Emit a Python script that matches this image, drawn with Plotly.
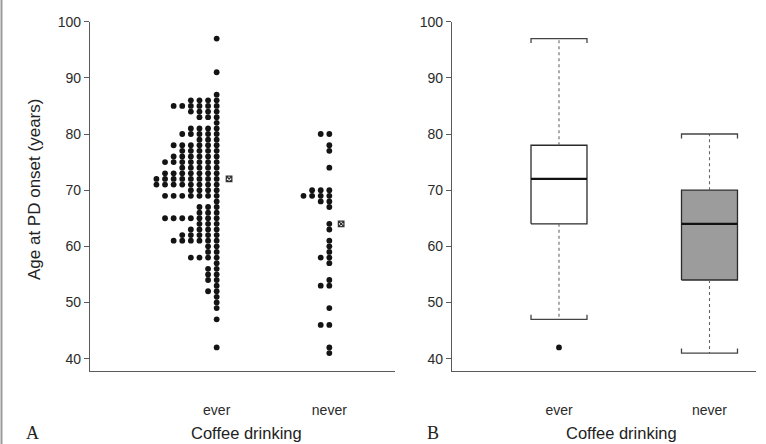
import plotly.graph_objects as go

# ---------------- data ----------------
categories = ["ever", "never"]

# dot histogram (panel A): age and number of subjects with that age
ever_ages = [97, 91, 87, 86, 85, 84, 83, 82, 81, 80, 79, 78, 77, 76, 75, 74, 73, 72, 71, 70,
             69, 68, 67, 66, 65, 64, 63, 62, 61, 60, 59, 58, 57, 56, 55, 54, 53, 52, 51, 50,
             49, 47, 42]
ever_counts = [1, 1, 1, 4, 6, 4, 3, 1, 4, 5, 3, 6, 5, 6, 7, 5, 7, 8, 8, 4,
               7, 1, 3, 3, 7, 3, 4, 5, 6, 2, 2, 4, 1, 2, 2, 2, 1, 2, 1, 1,
               1, 1, 1]
never_ages = [80, 78, 77, 74, 70, 69, 68, 67, 64, 63, 61, 60, 59, 58, 57, 54, 53, 49, 46, 42, 41]
never_counts = [2, 1, 1, 1, 3, 4, 2, 1, 1, 1, 1, 1, 1, 2, 1, 1, 2, 1, 2, 1, 1]
center_marker = [72, 64]

# box plot (panel B)
box_q1 = [64, 54]
box_median = [72, 64]
box_q3 = [78, 70]
whisker_low = [47, 41]
whisker_high = [97, 80]
outliers_ever = [42]
box_fill = ["white", "#9c9c9c"]

y_ticks = [40, 50, 60, 70, 80, 90, 100]

# ---------------- figure ----------------
fig = go.Figure()
DOT = "#141414"
AX = "#5a5a5a"
step = 0.0764  # horizontal spacing of stacked dots (axis units)

# Panel A: stacked dots leftwards from category position
for ci, (ages, counts) in enumerate([(ever_ages, ever_counts), (never_ages, never_counts)]):
    pos = ci + 1
    xs, ys = [], []
    for a, c in zip(ages, counts):
        for k in range(c):
            xs.append(pos - k * step)
            ys.append(a)
    fig.add_trace(go.Scatter(x=xs, y=ys, mode="markers", xaxis="x", yaxis="y",
                             marker=dict(size=5.8, color=DOT), showlegend=False,
                             hoverinfo="skip"))
fig.add_trace(go.Scatter(x=[1 + 0.11, 2 + 0.105], y=center_marker, mode="markers",
                         xaxis="x", yaxis="y",
                         marker=dict(symbol="square-x-open", size=5.5, color="#333",
                                     line=dict(width=1.3, color="#333")),
                         showlegend=False, hoverinfo="skip"))

# Panel B: box plots drawn as line traces
hw = 0.186
capend = 0.8
for i in range(2):
    p = i + 1
    fig.add_trace(go.Scatter(
        x=[p - hw, p + hw, p + hw, p - hw, p - hw],
        y=[box_q1[i], box_q1[i], box_q3[i], box_q3[i], box_q1[i]],
        mode="lines", fill="toself", fillcolor=box_fill[i],
        line=dict(color="#2a2a2a", width=1.3), xaxis="x2", yaxis="y2",
        showlegend=False, hoverinfo="skip"))
    fig.add_trace(go.Scatter(x=[p - hw, p + hw], y=[box_median[i], box_median[i]],
                             mode="lines", line=dict(color="#111", width=2.2),
                             xaxis="x2", yaxis="y2", showlegend=False, hoverinfo="skip"))
    fig.add_trace(go.Scatter(x=[p, p, None, p, p],
                             y=[box_q3[i], whisker_high[i], None, box_q1[i], whisker_low[i]],
                             mode="lines", line=dict(color="#666", width=1.1, dash="dot"),
                             xaxis="x2", yaxis="y2", showlegend=False, hoverinfo="skip"))
    fig.add_trace(go.Scatter(
        x=[p - hw, p - hw, p + hw, p + hw, None, p - hw, p - hw, p + hw, p + hw],
        y=[whisker_high[i] - capend, whisker_high[i], whisker_high[i], whisker_high[i] - capend, None,
           whisker_low[i] + capend, whisker_low[i], whisker_low[i], whisker_low[i] + capend],
        mode="lines", line=dict(color="#444", width=1.3),
        xaxis="x2", yaxis="y2", showlegend=False, hoverinfo="skip"))

fig.add_trace(go.Scatter(x=[1] * len(outliers_ever), y=outliers_ever, mode="markers",
                         marker=dict(size=5.8, color=DOT), xaxis="x2", yaxis="y2",
                         showlegend=False, hoverinfo="skip"))

W, H = 766, 444
FONT = "Liberation Sans, Arial"
y_dom = [(H - 371) / H, (H - 21.7) / H]
yax = dict(range=[37.8, 100], tickvals=y_ticks, ticks="outside", ticklen=5, tickwidth=1,
           tickcolor=AX, showline=True, linecolor=AX, linewidth=1.2, showgrid=False,
           zeroline=False, tickfont=dict(family=FONT, size=14, color="#2a2a2a"),
           domain=y_dom, automargin=False)
xcommon = dict(showline=True, linecolor=AX, linewidth=1.4, showgrid=False, zeroline=False,
               ticks="", tickvals=[1, 2], ticktext=categories, ticklabelstandoff=26,
               tickfont=dict(family=FONT, size=14, color="#2a2a2a"),
               automargin=False)

fig.update_layout(
    width=W, height=H, margin=dict(l=0, r=0, t=0, b=0),
    paper_bgcolor="white", plot_bgcolor="white",
    xaxis=dict(**xcommon, range=[-0.1245, 2.583], domain=[90 / W, 395 / W], anchor="y"),
    yaxis=dict(**yax, anchor="x"),
    xaxis2=dict(**xcommon, range=[0.289, 2.309], domain=[452 / W, 756 / W], anchor="y2"),
    yaxis2=dict(**yax, anchor="x2"),
)


def ann(x, y, text, font, angle=0):
    fig.add_annotation(x=x / W, y=(H - y) / H, xref="paper", yref="paper", text=text,
                       textangle=angle, showarrow=False, xanchor="center", yanchor="middle",
                       font=font)


ann(35, 190, "Age at PD onset (years)", dict(family=FONT, size=17, color="#222"), -90)
ann(246, 433, "Coffee drinking", dict(family=FONT, size=16.5, color="#222"))
ann(621, 433, "Coffee drinking", dict(family=FONT, size=16.5, color="#222"))
serif = dict(family="Liberation Serif, Times New Roman", size=18, color="#222")
ann(32, 433, "A", serif)
ann(433, 433, "B", serif)
fig.add_shape(type="line", xref="paper", yref="paper", x0=1.5 / W, x1=1.5 / W, y0=0, y1=1,
              line=dict(color="#9a9a9a", width=2))

fig.write_html("out.html", config={"displayModeBar": False},
               post_script="document.body.style.margin='0';document.body.style.overflow='hidden';")
